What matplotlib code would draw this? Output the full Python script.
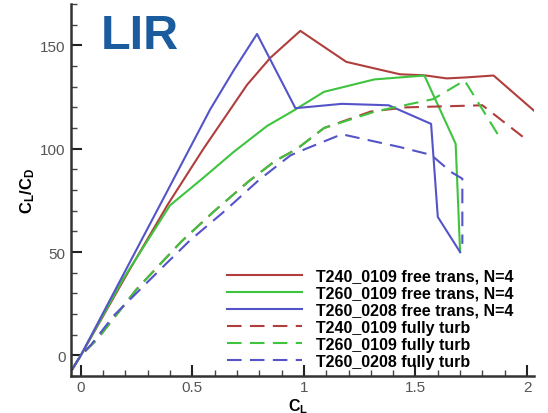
import numpy as np
import matplotlib
matplotlib.use('Agg')
import matplotlib.pyplot as plt

plt.rcParams['font.family'] = ['Liberation Sans', 'DejaVu Sans']
plt.rcParams['mathtext.fontset'] = 'custom'
plt.rcParams['mathtext.bf'] = 'Liberation Sans:bold'
plt.rcParams['mathtext.rm'] = 'Liberation Sans'

# free transition, N=4
red_x = [-0.04, 0, 0.2, 0.39, 0.55, 0.746, 0.85, 0.984, 1.19, 1.43, 1.54, 1.64, 1.73, 1.85, 2.03]
red_y = [-7, 0, 38, 73, 100, 131, 144, 157, 142, 136, 135.5, 134, 134.5, 135.4, 118.5]
green_x = [-0.04, 0, 0.19, 0.40, 0.55, 0.686, 0.835, 0.955, 1.09, 1.315, 1.54, 1.68, 1.70]
green_y = [-7, 0, 37, 72.6, 86, 98.5, 111, 118.5, 127.5, 133.5, 135.4, 102.4, 50]
blue_x = [-0.04, 0, 0.2, 0.4, 0.58, 0.686, 0.79, 0.962, 1.17, 1.38, 1.57, 1.60, 1.70]
blue_y = [-7, 0, 41, 82, 119, 138, 155.5, 119.6, 121.7, 121, 112, 67, 50]

# fully turbulent
red_t_x = [-0.04, 0, 0.075, 0.25, 0.45, 0.595, 0.75, 0.87, 0.97, 1.09, 1.30, 1.46, 1.80, 1.99]
red_t_y = [-7, 0, 8, 32, 55, 69.5, 84, 94, 100, 110, 118, 120, 121, 105]
green_t_x = [-0.04, 0, 0.075, 0.25, 0.45, 0.595, 0.75, 0.87, 0.97, 1.09, 1.32, 1.58, 1.72, 1.88]
green_t_y = [-7, 0, 8, 32, 55, 69.5, 84, 94, 100, 110, 118, 124, 133, 105]
blue_t_x = [-0.04, 0, 0.045, 0.15, 0.36, 0.49, 0.64, 0.80, 0.94, 1.01, 1.17, 1.43, 1.57, 1.66, 1.71, 1.71]
blue_t_y = [-7, 0, 5, 19.5, 42, 55.7, 69.4, 85, 96.8, 100, 107, 100.8, 97, 88.7, 85.5, 54]

labels = ['T240_0109 free trans, N=4', 'T260_0109 free trans, N=4', 'T260_0208 free trans, N=4',
          'T240_0109 fully turb', 'T260_0109 fully turb', 'T260_0208 fully turb']

c_red = '#b03e3c'
c_green = '#3ec43e'
c_blue = '#5454c8'

fig = plt.figure(figsize=(5.48, 4.14), dpi=100)
ax = fig.add_axes([0.129, 0.089, 0.845, 0.899])

lw = 1.5
ax.plot(red_x, red_y, color=c_red, lw=lw, label=labels[0])
ax.plot(green_x, green_y, color=c_green, lw=lw, label=labels[1])
ax.plot(blue_x, blue_y, color=c_blue, lw=lw, label=labels[2])
ax.plot(red_t_x, red_t_y, color=c_red, lw=lw, ls=(0, (7, 4)), label=labels[3])
ax.plot(green_t_x, green_t_y, color=c_green, lw=lw, ls=(0, (7, 4)), label=labels[4])
ax.plot(blue_t_x, blue_t_y, color=c_blue, lw=lw, ls=(0, (7, 4)), label=labels[5])

ax.set_xlim(-0.045, 2.03)
ax.set_ylim(-10, 170)
ax.set_xticks([0, 0.5, 1, 1.5, 2])
ax.set_xticklabels(['0', '0.5', '1', '1.5', '2'])
ax.set_yticks([0, 50, 100, 150])
ax.set_xticks(np.arange(0, 2.01, 0.1), minor=True)
ax.set_yticks(np.arange(-10, 171, 10), minor=True)
ax.tick_params(which='major', direction='in', length=8, width=1.5, colors='#222222',
               labelcolor='#555555', labelsize=11)
ax.tick_params(axis='x', which='major', pad=3)
ax.tick_params(which='minor', direction='in', length=4, width=1, colors='#444444')
for s in ['top', 'right']:
    ax.spines[s].set_visible(False)
for s in ['left', 'bottom']:
    ax.spines[s].set_linewidth(1.8)
    ax.spines[s].set_color('#333333')

ax.set_xlabel(r'$\mathbf{C_L}$', fontsize=11.5, va='center')
ax.set_ylabel(r'$\mathbf{C_L/C_D}$', fontsize=12, va='center')
ax.xaxis.set_label_coords(0.49, -0.078)
ax.yaxis.set_label_coords(-0.094, 0.5)

fig.text(0.183, 0.882, 'LIR', fontsize=35, fontweight='bold', color='#1a5c9e')

leg = ax.legend(loc='upper left', bbox_to_anchor=(0.414, 0.349), bbox_transform=fig.transFigure,
                frameon=False, prop={'weight': 'bold', 'size': 11.5}, handlelength=4.7,
                handletextpad=0.87, labelspacing=0.13, borderpad=0, borderaxespad=0)

plt.savefig('out.png', dpi=100)
